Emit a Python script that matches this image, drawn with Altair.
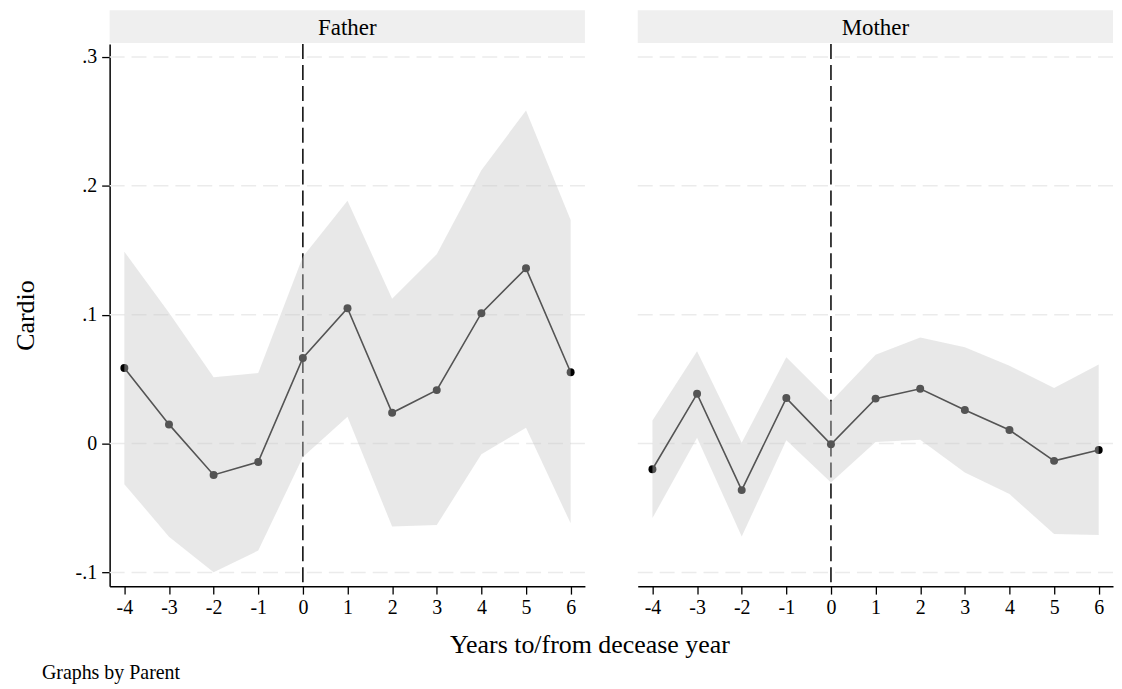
import altair as alt
import pandas as pd

# ---------------- data ----------------
years = [-4, -3, -2, -1, 0, 1, 2, 3, 4, 5, 6]

father_est = [0.0587, 0.0149, -0.0243, -0.0142, 0.0664, 0.1051, 0.0239, 0.0415, 0.1012, 0.1360, 0.0554]
father_lo = [-0.0315, -0.0722, -0.0998, -0.0830, -0.0104, 0.0208, -0.0643, -0.0632, -0.0083, 0.0123, -0.0619]
father_hi = [0.1489, 0.1015, 0.0515, 0.0548, 0.1450, 0.1884, 0.1124, 0.1469, 0.2121, 0.2585, 0.1735]

mother_est = [-0.0199, 0.0386, -0.0361, 0.0353, -0.0005, 0.0349, 0.0425, 0.0260, 0.0105, -0.0134, -0.0049]
mother_lo = [-0.0578, 0.0046, -0.0720, 0.0026, -0.0302, 0.0012, 0.0030, -0.0225, -0.0392, -0.0701, -0.0709]
mother_hi = [0.0180, 0.0716, 0.0007, 0.0670, 0.0324, 0.0690, 0.0824, 0.0747, 0.0605, 0.0432, 0.0613]

y_ticks = [0.3, 0.2, 0.1, 0.0, -0.1]
y_tick_labels = [".3", ".2", ".1", "0", "-.1"]
event_year = [0]

panel_names = ["Father", "Mother"]
y_title = "Cardio"
x_title = "Years to/from decease year"
note = "Graphs by Parent"

# ---------------- style ----------------
FONT = "Liberation Serif"
W, H, SH = 477, 544, 33
GAP = 51
xs = alt.Scale(domain=[-4.33, 6.32], nice=False, zero=False)
ys = alt.Scale(domain=[-0.1106, 0.310], nice=False, zero=False)

y_label_expr = " : ".join(
    f"abs(datum.value - ({v})) < 1e-9 ? '{lab}'" for v, lab in zip(y_ticks, y_tick_labels)
) + " : ''"

x_axis = alt.Axis(
    values=years, labelExpr="datum.value + ''", title=None, grid=False,
    domainColor="black", domainWidth=1.5, tickColor="black", tickSize=8, tickWidth=1.3,
    labelFont=FONT, labelFontSize=20, labelColor="black", labelPadding=3, labelFlush=False,
)
y_axis_left = alt.Axis(
    values=y_ticks, labelExpr=y_label_expr, title=y_title, grid=False,
    domainColor="black", domainWidth=1.5, tickColor="black", tickSize=8, tickWidth=1.3,
    labelFont=FONT, labelFontSize=20, labelColor="black", labelPadding=5,
    titleFont=FONT, titleFontSize=26, titleFontWeight="normal", titleColor="black",
    titlePadding=37,
)


def panel(name, est, lo, hi, show_y):
    df = pd.DataFrame({"x": years, "est": est, "lo": lo, "hi": hi})
    grid_df = pd.DataFrame({"v": y_ticks})
    ev_df = pd.DataFrame({"x0": event_year})
    yaxis = y_axis_left if show_y else None

    def Y(field):
        if yaxis is None:
            return alt.Y(field, scale=ys, axis=None)
        return alt.Y(field, scale=ys, axis=yaxis)

    X = alt.X("x:Q", scale=xs, axis=x_axis)

    grid = alt.Chart(grid_df).mark_rule(
        color="#ebebeb", strokeWidth=1.5, strokeDash=[15, 7]
    ).encode(y=Y("v:Q"))
    vline = alt.Chart(ev_df).mark_rule(
        color="black", strokeWidth=1.5, strokeDash=[15, 6]
    ).encode(x=alt.X("x0:Q", scale=xs, axis=x_axis))
    line = alt.Chart(df).mark_line(color="black", strokeWidth=1.6).encode(x=X, y=Y("est:Q"))
    pts = alt.Chart(df).mark_circle(color="black", size=64, opacity=1).encode(x=X, y=Y("est:Q"))
    band = alt.Chart(df).mark_area(color="#c8c8c8", opacity=0.42).encode(
        x=X, y=Y("lo:Q"), y2="hi:Q"
    )
    plot = alt.layer(grid, vline, line, pts, band).properties(width=W, height=H)

    sdf = pd.DataFrame({"label": [name]})
    strip_bg = alt.Chart(sdf).mark_rect(color="#efefef").encode(
        x=alt.value(0), x2=alt.value(W), y=alt.value(0), y2=alt.value(SH)
    )
    strip_txt = alt.Chart(sdf).mark_text(
        font=FONT, fontSize=23, color="black", baseline="middle", align="center"
    ).encode(x=alt.value(W / 2), y=alt.value(SH / 2 + 1), text="label:N")
    strip = alt.layer(strip_bg, strip_txt).properties(width=W, height=SH)
    return alt.vconcat(strip, plot, spacing=0)


left = panel(panel_names[0], father_est, father_lo, father_hi, True)
right = panel(panel_names[1], mother_est, mother_lo, mother_hi, False)
panels = alt.hconcat(left, right, spacing=GAP)

FW, FH = 2 * W + GAP, 65
fdf = pd.DataFrame({"t1": [x_title], "t2": [note]})
ft1 = alt.Chart(fdf).mark_text(
    font=FONT, fontSize=26, color="black", align="center", baseline="alphabetic"
).encode(x=alt.value(482), y=alt.value(36), text="t1:N")
ft2 = alt.Chart(fdf).mark_text(
    font=FONT, fontSize=20, color="black", align="left", baseline="alphabetic"
).encode(x=alt.value(-68), y=alt.value(62), text="t2:N")
footer = alt.layer(ft1, ft2).properties(width=FW, height=FH)

chart = alt.vconcat(panels, footer, spacing=0).properties(
    padding={"left": 4, "top": 1, "right": 0, "bottom": 0},
    background="white",
).configure_view(stroke=None)

chart.save("out.html", embed_options={"renderer": "svg", "actions": False})
